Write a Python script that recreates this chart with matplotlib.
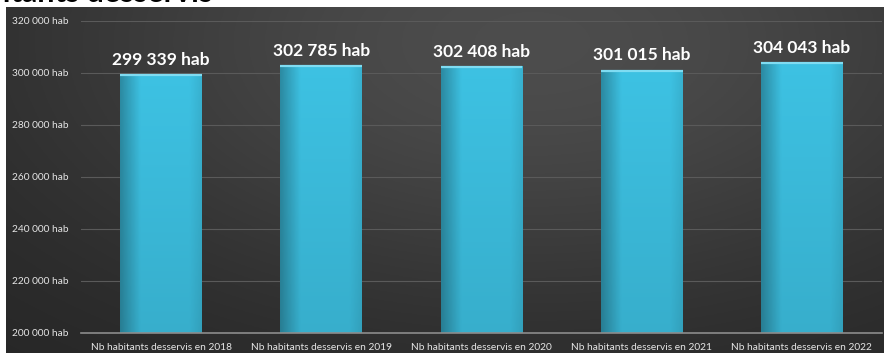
import numpy as np
import matplotlib.pyplot as plt

plt.rcParams['font.family'] = ['Lato', 'DejaVu Sans']

# data
categories = [
    "Nb habitants desservis en 2018",
    "Nb habitants desservis en 2019",
    "Nb habitants desservis en 2020",
    "Nb habitants desservis en 2021",
    "Nb habitants desservis en 2022",
]
values = [299339, 302785, 302408, 301015, 304043]
value_labels = ["299 339 hab", "302 785 hab", "302 408 hab", "301 015 hab", "304 043 hab"]
y_ticks = [200000, 220000, 240000, 260000, 280000, 300000, 320000]
y_tick_labels = ["200 000 hab", "220 000 hab", "240 000 hab", "260 000 hab",
                 "280 000 hab", "300 000 hab", "320 000 hab"]
title = "Nombre d'habitants desservis"

W, H = 884, 353
fig = plt.figure(figsize=(W / 100, H / 100), dpi=100)
fig.patch.set_facecolor('white')

# dark gradient background panel
bg = fig.add_axes([6 / W, 0, 1 - 6 / W, 1 - 7 / H])
bg.set_axis_off()
yy, xx = np.mgrid[0:1:200j, 0:1:400j]
d = ((xx - 0.6) / 0.75) ** 2 + ((yy - 0.1) / 1.0) ** 2
shade = 0.14 + 0.16 * np.exp(-d * 1.6)
bg.imshow(np.dstack([shade, shade, shade]), extent=[0, 1, 0, 1], aspect='auto',
          origin='upper')
bg.set_xlim(0, 1)
bg.set_ylim(0, 1)

ax = fig.add_axes([81 / W, 20 / H, 801 / W, 312 / H])
ax.set_facecolor('none')

x = np.arange(len(values))
width = 0.51
bars = ax.bar(x, values, width=width, color='#35b3d8', zorder=2)

# cyan gradient on each bar
hx = np.linspace(0, 1, 60)
hprof = 0.72 + 0.28 * np.clip(hx / 0.25, 0, 1) - 0.08 * np.clip((hx - 0.85) / 0.15, 0, 1)
vy = np.linspace(0, 1, 100)
vprof = 0.9 + 0.1 * vy
light = np.array([0.24, 0.76, 0.89])
for bar, v in zip(bars, values):
    img = hprof[None, :, None] * vprof[:, None, None] * light[None, None, :]
    x0 = bar.get_x()
    ax.imshow(np.clip(img, 0, 1), extent=[x0, x0 + width, 200000, v],
              aspect='auto', origin='lower', zorder=3, clip_path=bar)
    ax.hlines(v - 250, x0, x0 + width, color='#7fdcf2', linewidth=1.6, zorder=4)

for xi, v, lab in zip(x, values, value_labels):
    ax.annotate(lab, (xi, v), xytext=(0, 5), textcoords='offset points',
                ha='center', va='bottom', color='white', fontsize=12.5,
                fontweight='bold', zorder=5)

ax.set_xlim(-0.5, len(values) - 0.5)
ax.set_ylim(200000, 320000)
ax.set_yticks(y_ticks)
ax.set_yticklabels(y_tick_labels)
ax.set_xticks(x)
ax.set_xticklabels(categories)
ax.tick_params(axis='y', length=0, pad=9, labelsize=7.3, labelcolor='#e6e6e6')
ax.tick_params(axis='x', length=0, pad=7, labelsize=7.3, labelcolor='#e6e6e6')
ax.grid(axis='y', color='#5a5a5a', linewidth=0.8, zorder=1)
ax.set_axisbelow(True)
for side in ['top', 'right', 'left']:
    ax.spines[side].set_visible(False)
ax.spines['bottom'].set_color('#8c8c8c')
ax.spines['bottom'].set_linewidth(1.2)
ax.spines['bottom'].set_zorder(6)

fig.text(213 / W, 1 - 2.5 / H, title, ha='right', va='baseline',
         fontsize=22, fontweight='bold', color='black')

fig.savefig('out.png', dpi=100)
